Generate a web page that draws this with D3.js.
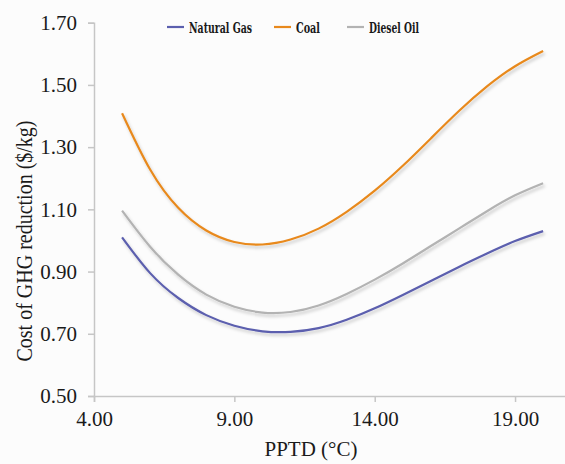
<!DOCTYPE html>
<html>
<head>
<meta charset="utf-8">
<script src="https://cdn.jsdelivr.net/npm/d3@7"></script>
<style>
    html, body { margin: 0; padding: 0; background: #fcfcfc; }
    #viz { width: 565px; height: 464px; }
</style>
</head>
<body>
<div id="viz"></div>
<script>
// PPTD values (°C)
const pptd = [5, 6, 7, 8, 9, 10, 11, 12, 13, 14, 15, 16, 17, 18, 19, 20];

// Cost of GHG reduction ($/kg)
const naturalGas = [1.010, 0.895, 0.815, 0.760, 0.726, 0.708, 0.706, 0.718, 0.745, 0.782, 0.825, 0.870, 0.915, 0.958, 0.998, 1.030];
const coal       = [1.409, 1.228, 1.105, 1.032, 0.995, 0.987, 1.003, 1.038, 1.092, 1.160, 1.240, 1.328, 1.416, 1.495, 1.560, 1.609];
const dieselOil  = [1.096, 0.980, 0.890, 0.826, 0.787, 0.768, 0.770, 0.791, 0.828, 0.874, 0.926, 0.982, 1.038, 1.094, 1.145, 1.184];

const seriesNames = ["Natural Gas", "Coal", "Diesel Oil"];
const seriesColors = ["#5b5fae", "#e8891c", "#b3b3b3"];

// tick labels
const xTicks = [4, 9, 14, 19];
const yTicks = [0.5, 0.7, 0.9, 1.1, 1.3, 1.5, 1.7];

function renderChart(d3) {
    const mount = document.getElementById("viz");
    const width = 565, height = 464;

    const svg = d3.select(mount).append("svg")
        .attr("width", width)
        .attr("height", height)
        .style("display", "block")
        .style("background", "#fcfcfc");

    // soft shadow under the lines (like the Excel original)
    svg.append("defs").append("filter")
        .attr("id", "shadow")
        .attr("x", "-5%").attr("y", "-5%")
        .attr("width", "110%").attr("height", "120%")
        .append("feDropShadow")
        .attr("dx", 1.5).attr("dy", 2.5)
        .attr("stdDeviation", 1.5)
        .attr("flood-color", "#000")
        .attr("flood-opacity", 0.2);

    const x = d3.scaleLinear().domain([4, 21]).range([94, 571.2]);
    const y = d3.scaleLinear().domain([0.5, 1.7]).range([396, 22.7]);

    const AXIS = "#c6c6c6";
    const serif = "Liberation Serif";

    // y axis
    const yAxis = svg.append("g")
        .attr("transform", `translate(${x(4)},0)`)
        .call(d3.axisLeft(y).tickValues(yTicks).tickFormat(d3.format(".2f")).tickSize(6).tickPadding(11));

    // x axis
    const xAxis = svg.append("g")
        .attr("transform", `translate(0,${y(0.5)})`)
        .call(d3.axisBottom(x).tickValues(xTicks).tickFormat(d3.format(".2f")).tickSize(6).tickPadding(9));

    [xAxis, yAxis].forEach(g => {
        g.select(".domain").attr("stroke", AXIS).attr("stroke-width", 1.5);
        g.selectAll(".tick line").attr("stroke", AXIS).attr("stroke-width", 1.5);
        g.selectAll(".tick text")
            .attr("fill", "#1a1a1a")
            .style("font-family", serif)
            .style("font-size", "21px");
    });

    // axis titles
    svg.append("text")
        .attr("x", 311)
        .attr("y", 456)
        .attr("text-anchor", "middle")
        .attr("fill", "#1a1a1a")
        .style("font-family", serif)
        .style("font-size", "21px")
        .text("PPTD (°C)");

    // y title is a bit stretched sideways in the original
    svg.append("text")
        .attr("transform", "translate(32,241) scale(1.15,1) rotate(-90)")
        .attr("text-anchor", "middle")
        .attr("fill", "#1a1a1a")
        .style("font-family", serif)
        .style("font-size", "20px")
        .text("Cost of GHG reduction ($/kg)");

    // lines
    const series = [naturalGas, coal, dieselOil].map((vals, i) => ({
        name: seriesNames[i],
        color: seriesColors[i],
        values: vals.map((v, j) => ({ x: pptd[j], y: v }))
    }));

    const line = d3.line()
        .x(d => x(d.x))
        .y(d => y(d.y))
        .curve(d3.curveNatural);

    svg.append("g")
        .selectAll("path")
        .data(series)
        .join("path")
        .attr("d", d => line(d.values))
        .attr("fill", "none")
        .attr("stroke", d => d.color)
        .attr("stroke-width", 2.2)
        .attr("filter", "url(#shadow)");

    // legend
    const legendX = [167, 274, 347];
    const legendW = [63, 24, 50];
    const legend = svg.append("g")
        .selectAll("g")
        .data(series)
        .join("g")
        .attr("transform", (d, i) => `translate(${legendX[i]},27)`);

    legend.append("line")
        .attr("x1", 0).attr("x2", 17)
        .attr("stroke", d => d.color)
        .attr("stroke-width", 2.2);

    legend.append("text")
        .attr("x", 22)
        .attr("y", 6)
        .attr("fill", "#1a1a1a")
        .attr("textLength", (d, i) => legendW[i])
        .attr("lengthAdjust", "spacingAndGlyphs")
        .style("font-family", "'DejaVu Serif Condensed', 'DejaVu Serif', serif")
        .style("font-weight", "bold")
        .style("font-size", "15px")
        .text(d => d.name);
}

renderChart(d3);
</script>
</body>
</html>
